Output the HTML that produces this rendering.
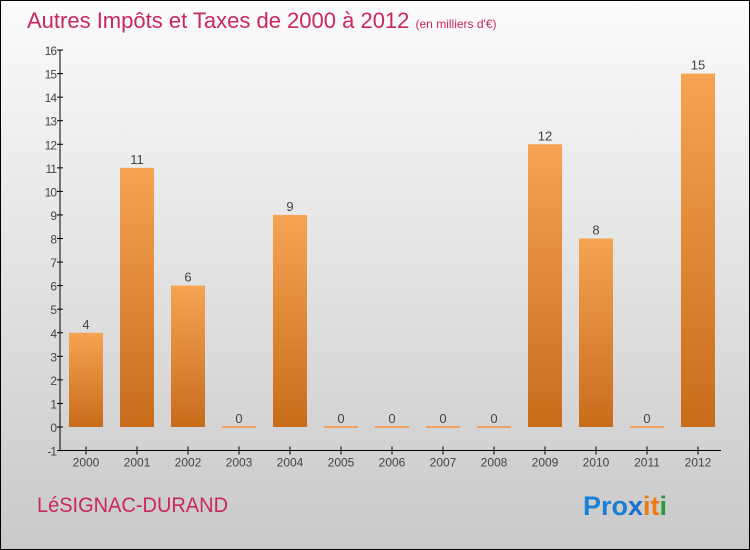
<!DOCTYPE html>
<html><head><meta charset="utf-8"><style>
body{margin:0}
#c{position:relative;width:748px;height:548px;border:1px solid #000;background:linear-gradient(#fbfbfb,#c9c9c9);font-family:"Liberation Sans",sans-serif;overflow:hidden}
</style></head><body>
<div id="c">
<svg id="s" width="748" height="548" style="position:absolute;left:0;top:0">
<defs><linearGradient id="g" x1="0" y1="0" x2="0" y2="1"><stop offset="0" stop-color="#f6a452"/><stop offset="1" stop-color="#c86c1a"/></linearGradient></defs>
<text x="26" y="27" font-size="22" fill="#c8285a">Autres Impôts et Taxes de 2000 à 2012 <tspan font-size="12">(en milliers d'€)</tspan></text>
<text x="36" y="511" font-size="21" textLength="191" lengthAdjust="spacingAndGlyphs" fill="#c8285a">LéSIGNAC-DURAND</text>
<text x="582" y="514" font-size="27" font-weight="bold"><tspan fill="#1a7fd6">Pro</tspan><tspan fill="#1a6fd0">x</tspan><tspan fill="#f07a10">it</tspan><tspan fill="#2a9a3a">i</tspan></text>
<g id="plot"></g>
</svg>
</div>
<script>
const categories=["2000","2001","2002","2003","2004","2005","2006","2007","2008","2009","2010","2011","2012"];
const values=[4,11,6,0,9,0,0,0,0,12,8,0,15];
const yTicks=[-1,0,1,2,3,4,5,6,7,8,9,10,11,12,13,14,15,16];
const y=v=>426-v*23.56;
const x=i=>85+i*51;
const ns="http://www.w3.org/2000/svg";
const p=document.getElementById('plot');
function mk(t,a){const e=document.createElementNS(ns,t);for(const k in a)e.setAttribute(k,a[k]);p.appendChild(e);return e;}
let e=mk('line',{x1:59,y1:y(16),x2:59,y2:y(-1),stroke:'#000'});


e=mk('line',{x1:59,y1:y(-1),x2:720,y2:y(-1),stroke:'#000'});


yTicks.forEach(t=>{
 let l=mk('line',{x1:56,x2:62,y1:y(t),y2:y(t),stroke:'#000'});
 
 
 let tx=mk('text',{x:55,y:y(t)+5,'font-size':12,'text-anchor':'end',fill:'#444','letter-spacing':'-1'});
 tx.textContent=t;
 
 
});
categories.forEach((c,i)=>{
 const v=values[i];
 let l=mk('line',{x1:x(i),x2:x(i),y1:y(-1)-4,y2:y(-1)+4,stroke:'#000'});
 
 
 let tx=mk('text',{x:x(i),y:y(-1)+16,'font-size':12,'text-anchor':'middle',fill:'#444'});
 tx.textContent=c;
 
 
 let b;
 if(v>0){b=mk('rect',{x:x(i)-17,y:y(v),width:34,height:y(0)-y(v),fill:'url(#g)'});}
 else{b=mk('rect',{x:x(i)-17,y:y(0)-1,width:34,height:2,fill:'#f0a060'});}
 
 
 let vl=mk('text',{x:x(i),y:y(v)-4,'font-size':13,'text-anchor':'middle',fill:'#444'});
 vl.textContent=v;
 
 
});
</script>
</body></html>
